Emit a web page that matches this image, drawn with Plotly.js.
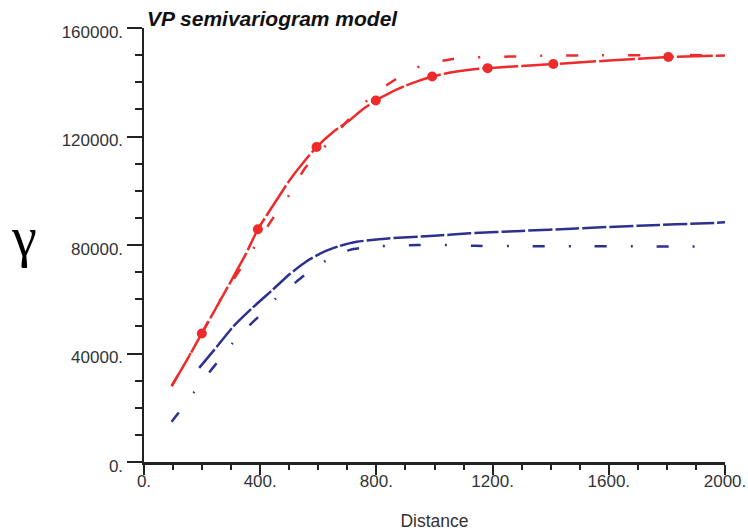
<!DOCTYPE html>
<html>
<head>
<meta charset="utf-8">
<script src="https://cdn.plot.ly/plotly-3.0.1.min.js"></script>
<style>html,body{margin:0;padding:0;background:#fff;}#chart{width:748px;height:532px;}</style>
</head>
<body>
<div id="chart"></div>
<script>
// Experimental VP semivariogram points (red dots)
const expDist  = [199, 392, 594, 798, 992, 1183, 1409, 1805];
const expGamma = [47400, 85800, 116100, 133300, 142100, 145200, 146700, 149300];

// Red model curve (long dash, through dots)
const redModelDist  = [95, 150, 199, 250, 300, 350, 392, 456, 502, 550, 594, 650, 709, 750, 798, 850, 900, 950, 992, 1050, 1122, 1183, 1300, 1409, 1600, 1805, 2000];
const redModelGamma = [27950, 38000, 47400, 57200, 66800, 76600, 85800, 96500, 104000, 110600, 116100, 121600, 126100, 129800, 133300, 136300, 138700, 140700, 142100, 143500, 144600, 145200, 146000, 146700, 148000, 149300, 149900];

// Red dash-dot curve
const redDDDist  = [95, 199, 261, 318, 381, 444, 502, 554, 630, 703, 760, 820, 864, 910, 961, 1064, 1173, 1283, 1391, 1501, 1713, 1950];
const redDDGamma = [27950, 47400, 59700, 68900, 79400, 89900, 98800, 108300, 117200, 126100, 132500, 137800, 140900, 143800, 146400, 148600, 149300, 149500, 149800, 149900, 150000, 150000];

// Blue model curve (long dash)
const blueModelDist  = [190, 250, 306, 375, 444, 502, 560, 617, 672, 732, 800, 846, 1000, 1122, 1300, 1489, 1700, 1972, 2000];
const blueModelGamma = [34700, 42400, 49800, 57000, 63600, 69300, 74000, 77400, 79600, 81200, 82000, 82500, 83400, 84300, 85200, 86100, 87100, 88200, 88400];

// Blue dash-dot curve
const blueDDDist  = [95, 117, 171, 226, 249, 304, 364, 393, 454, 525, 553, 626, 709, 743, 835, 944, 1051, 1139, 1300, 1500, 1700, 1914];
const blueDDGamma = [14800, 17900, 25500, 33200, 36300, 43700, 50500, 53500, 60300, 66500, 68900, 74200, 78200, 78800, 79700, 80000, 80000, 79700, 79600, 79500, 79500, 79400];

// Tick labels
const xTickVals = [0, 400, 800, 1200, 1600, 2000];
const xTickText = ["0.", "400.", "800.", "1200.", "1600.", "2000."];
const yTickVals = [0, 40000, 80000, 120000, 160000];
const yTickText = ["0.", "40000.", "80000.", "120000.", "160000."];

const RED = '#ee2a2a';
const BLUE = '#2d3091';

const traces = [
  {x: blueDDDist, y: blueDDGamma, mode: 'lines', line: {color: BLUE, width: 2.5, dash: '12px,24px,2px,24px', shape: 'spline', smoothing: 0.6}, hoverinfo: 'skip'},
  {x: blueModelDist, y: blueModelGamma, mode: 'lines', line: {color: BLUE, width: 2.5, dash: '24px,3px', shape: 'spline', smoothing: 0.6}, hoverinfo: 'skip'},
  {x: redDDDist, y: redDDGamma, mode: 'lines', line: {color: RED, width: 2.5, dash: '12px,24px,2px,24px', shape: 'spline', smoothing: 0.6}, hoverinfo: 'skip'},
  {x: redModelDist, y: redModelGamma, mode: 'lines', line: {color: RED, width: 2.5, dash: '36px,3px', shape: 'spline', smoothing: 0.6}, hoverinfo: 'skip'},
  {x: expDist, y: expGamma, mode: 'markers', marker: {color: RED, size: 10}, hoverinfo: 'skip'}
];

const axisFont = {family: 'Liberation Sans, Arial, sans-serif', size: 17, color: '#333'};

const layout = {
  width: 748, height: 532,
  margin: {l: 144, r: 23, t: 28, b: 70, pad: 0},
  paper_bgcolor: '#fff', plot_bgcolor: '#fff',
  showlegend: false,
  title: {
    text: 'VP semivariogram model',
    font: {family: 'Liberation Sans, Arial, sans-serif', size: 21, weight: 'bold', style: 'italic', color: '#111'},
    xref: 'container', yref: 'container', x: 147/748, xanchor: 'left', y: 1 - 19/532, yanchor: 'middle'
  },
  xaxis: {
    range: [0, 2000], showgrid: false, zeroline: false,
    showline: true, linecolor: '#222', linewidth: 2.5,
    tickmode: 'array', tickvals: xTickVals, ticktext: xTickText,
    ticks: 'outside', ticklen: 10, tickwidth: 2, tickcolor: '#222',
    tickfont: axisFont, ticklabelstandoff: -8,
    minor: {dtick: 100, tick0: 0, ticks: 'outside', ticklen: 5, tickwidth: 2, tickcolor: '#222', showgrid: false},
    title: {text: 'Distance', font: {family: 'Liberation Sans, Arial, sans-serif', size: 17.5, color: '#333'}, standoff: 25}
  },
  yaxis: {
    range: [0, 160000], showgrid: false, zeroline: false,
    showline: true, linecolor: '#222', linewidth: 2.5,
    tickmode: 'array', tickvals: yTickVals, ticktext: yTickText,
    ticks: 'outside', ticklen: 15, tickwidth: 2, tickcolor: '#222',
    tickfont: axisFont, ticklabelshift: 4,
    minor: {dtick: 10000, tick0: 0, ticks: 'outside', ticklen: 7, tickwidth: 2, tickcolor: '#222', showgrid: false}
  },
  annotations: [
    {text: 'γ', xref: 'paper', yref: 'paper', x: (24 - 144) / 581, y: (461.7 - 237) / 433.4, xanchor: 'center', yanchor: 'middle', showarrow: false,
     font: {family: 'Liberation Serif, DejaVu Serif, serif', size: 56, color: '#000'}}
  ]
};

Plotly.newPlot('chart', traces, layout, {staticPlot: true, displayModeBar: false});
</script>
</body>
</html>
